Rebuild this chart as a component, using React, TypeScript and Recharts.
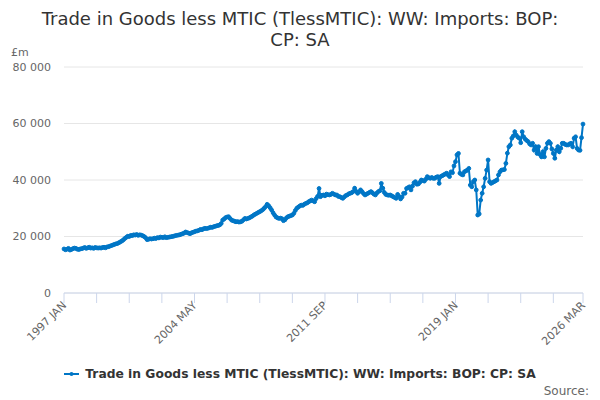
import { CartesianGrid, Line, LineChart, XAxis, YAxis } from 'recharts'

const LINE_COLOR = '#0076c6'
const SERIES_NAME = 'Trade in Goods less MTIC (TlessMTIC): WW: Imports: BOP: CP: SA'

const MONTH_NAMES = ['JAN', 'FEB', 'MAR', 'APR', 'MAY', 'JUN', 'JUL', 'AUG', 'SEP', 'OCT', 'NOV', 'DEC']

// £m, monthly
const imports1997to2001 = [
  15600, 15300, 15500, 15800, 15200, 15400, 15700, 15900, 15800, 15500, 15400, 15600,
  15700, 15900, 16100, 15800, 16000, 16200, 15900, 16000, 15800, 16100, 16000, 15900,
  16000, 15900, 16100, 16200, 16000, 16300, 16400, 16600, 16800, 17000, 17200, 17400,
  17500, 17800, 18100, 18400, 18800, 19300, 19700, 20100, 20000, 20400, 20300, 20600,
  20500, 20700, 20400, 20600, 20500, 20300, 20000, 19600, 18900, 19000, 19200, 19100,
]
const imports2002to2006 = [
  19200, 19400, 19300, 19600, 19500, 19800, 19700, 19600, 19900, 19600, 19700, 19800,
  19900, 20000, 20100, 20300, 20400, 20500, 20600, 20800, 21000, 21200, 21600, 21400,
  21200, 21000, 21300, 21500, 21700, 21900, 22000, 22200, 22500, 22400, 22700, 22900,
  22800, 22900, 23100, 23300, 23200, 23500, 23600, 23800, 23900, 24100, 24600, 25800,
  26200, 26700, 26900, 27000, 26400, 25800, 25600, 25400, 25200, 25300, 25100, 25200,
]
const imports2007to2011 = [
  25400, 25900, 26400, 26200, 26400, 26600, 26900, 27200, 27600, 27900, 28200, 28500,
  28800, 29100, 29500, 30000, 30600, 31400, 30900, 30200, 29400, 28400, 27600, 26900,
  26600, 26400, 26500, 26300, 25600, 25900, 26600, 27000, 27200, 27400, 27600, 28200,
  29200, 30000, 30400, 30800, 31100, 31000, 31400, 31700, 31900, 32300, 32600, 32900,
  32600, 32300, 33400, 34200, 37000, 34100, 34600, 34700, 34400, 35000, 34800, 34700,
]
const imports2012to2016 = [
  34900, 35300, 35000, 34700, 34700, 34200, 34100, 33800, 33500, 34000, 34500, 34700,
  35100, 35300, 35500, 35900, 37100, 36000, 35300, 35800, 36500, 35900, 35200, 34700,
  35000, 35300, 35600, 35900, 35500, 35000, 34700, 35400, 35900, 36200, 38800, 37100,
  35600, 34900, 34700, 34600, 34700, 34400, 34100, 33800, 33500, 34900, 34200, 33300,
  34000, 35300, 35300, 37000, 37300, 37600, 36500, 37800, 39000, 39400, 38500, 38600,
]
const imports2017to2021 = [
  39200, 40000, 39800, 39600, 40300, 41200, 40800, 40600, 40900, 40600, 40600, 41000,
  41200, 38800, 41200, 41500, 41800, 42100, 42400, 41800, 41200, 42900, 42600, 45000,
  46500, 48900, 49400, 42400, 42000, 41800, 42900, 43200, 43500, 44100, 38200, 37600,
  39400, 40000, 36500, 27600, 28000, 32900, 35300, 37600, 40600, 43500, 47100, 39400,
  38800, 39100, 39400, 39700, 40000, 41800, 42900, 43500, 43600, 43700, 45900, 49500,
]
const imports2022to2026 = [
  51800, 52400, 54800, 55600, 57100, 55900, 55200, 54800, 53200, 57100, 55300, 54500,
  54000, 53600, 52800, 52400, 53000, 50600, 51800, 49400, 51800, 49000, 48200, 50000,
  48200, 51200, 53000, 53600, 53000, 51000, 49400, 47700, 50600, 51800, 50000, 51200,
  53000, 53000, 52600, 52400, 52400, 52800, 53000, 51800, 54800, 55300, 51200, 50600,
  50500, 55000, 59800,
]

const importValues = [
  ...imports1997to2001,
  ...imports2002to2006,
  ...imports2007to2011,
  ...imports2012to2016,
  ...imports2017to2021,
  ...imports2022to2026,
]

const months = importValues.map((_, i) => `${1997 + Math.floor(i / 12)} ${MONTH_NAMES[i % 12]}`)

const labelledMonths = ['1997 JAN', '2004 MAY', '2011 SEP', '2019 JAN', '2026 MAR']
const tickMonths = months.filter((_, i) => i % 22 === 0 || i === months.length - 1)
const yTicks = [0, 20000, 40000, 60000, 80000]

const data = months.map((month, i) => ({ month, value: importValues[i] }))

const formatThousands = (v: number) => String(v).replace(/\B(?=(\d{3})+(?!\d))/g, ' ')

function MonthTick({ x, y, payload }: any) {
  if (!labelledMonths.includes(payload.value)) return null
  const ax = x + 3
  const ay = y + 1
  return (
    <text
      x={ax}
      y={ay}
      textAnchor="end"
      fontSize={11}
      fill="#666666"
      transform={`rotate(-45, ${ax}, ${ay})`}
    >
      {payload.value}
    </text>
  )
}

export default function App() {
  return (
    <div
      style={{
        position: 'absolute',
        left: 0,
        top: 0,
        width: 600,
        height: 400,
        background: '#fff',
        fontFamily: '"DejaVu Sans", sans-serif',
      }}
    >
      <div
        style={{
          position: 'absolute',
          top: 8,
          left: 0,
          width: 600,
          textAlign: 'center',
          fontSize: 18,
          lineHeight: '21px',
          color: '#333333',
        }}
      >
        Trade in Goods less MTIC (TlessMTIC): WW: Imports: BOP:
        <br />
        CP: SA
      </div>
      <div style={{ position: 'absolute', left: 11, top: 46, fontSize: 11, color: '#666666' }}>£m</div>

      <LineChart width={600} height={400} data={data} margin={{ top: 67, right: 17, bottom: 47, left: 0 }}>
        <CartesianGrid vertical={false} stroke="#e6e6e6" />
        <XAxis
          dataKey="month"
          ticks={tickMonths}
          interval={0}
          height={60}
          tickSize={10}
          axisLine={{ stroke: '#ccd6eb' }}
          tickLine={{ stroke: '#ccd6eb' }}
          tick={<MonthTick />}
        />
        <YAxis
          domain={[0, 80000]}
          ticks={yTicks}
          width={64}
          axisLine={false}
          tickLine={false}
          tickSize={0}
          tickMargin={13}
          tickFormatter={formatThousands}
          tick={{ fontSize: 11, fill: '#666666' }}
        />
        <Line
          type="linear"
          dataKey="value"
          name={SERIES_NAME}
          stroke={LINE_COLOR}
          strokeWidth={2}
          dot={{ r: 1.9, fill: LINE_COLOR, stroke: LINE_COLOR, strokeWidth: 1 }}
          isAnimationActive={false}
        />
      </LineChart>

      <div
        style={{
          position: 'absolute',
          top: 367,
          left: 0,
          width: 600,
          display: 'flex',
          justifyContent: 'center',
          alignItems: 'center',
          fontSize: 12.3,
          fontWeight: 'bold',
          color: '#333333',
        }}
      >
        <svg width={15} height={12} style={{ marginRight: 6 }}>
          <line x1={0} y1={6} x2={15} y2={6} stroke={LINE_COLOR} strokeWidth={2} />
          <circle cx={7.5} cy={6} r={2} fill={LINE_COLOR} />
        </svg>
        {SERIES_NAME}
      </div>
      <div style={{ position: 'absolute', right: 11, top: 384, fontSize: 12, color: '#666666' }}>Source:</div>
    </div>
  )
}
